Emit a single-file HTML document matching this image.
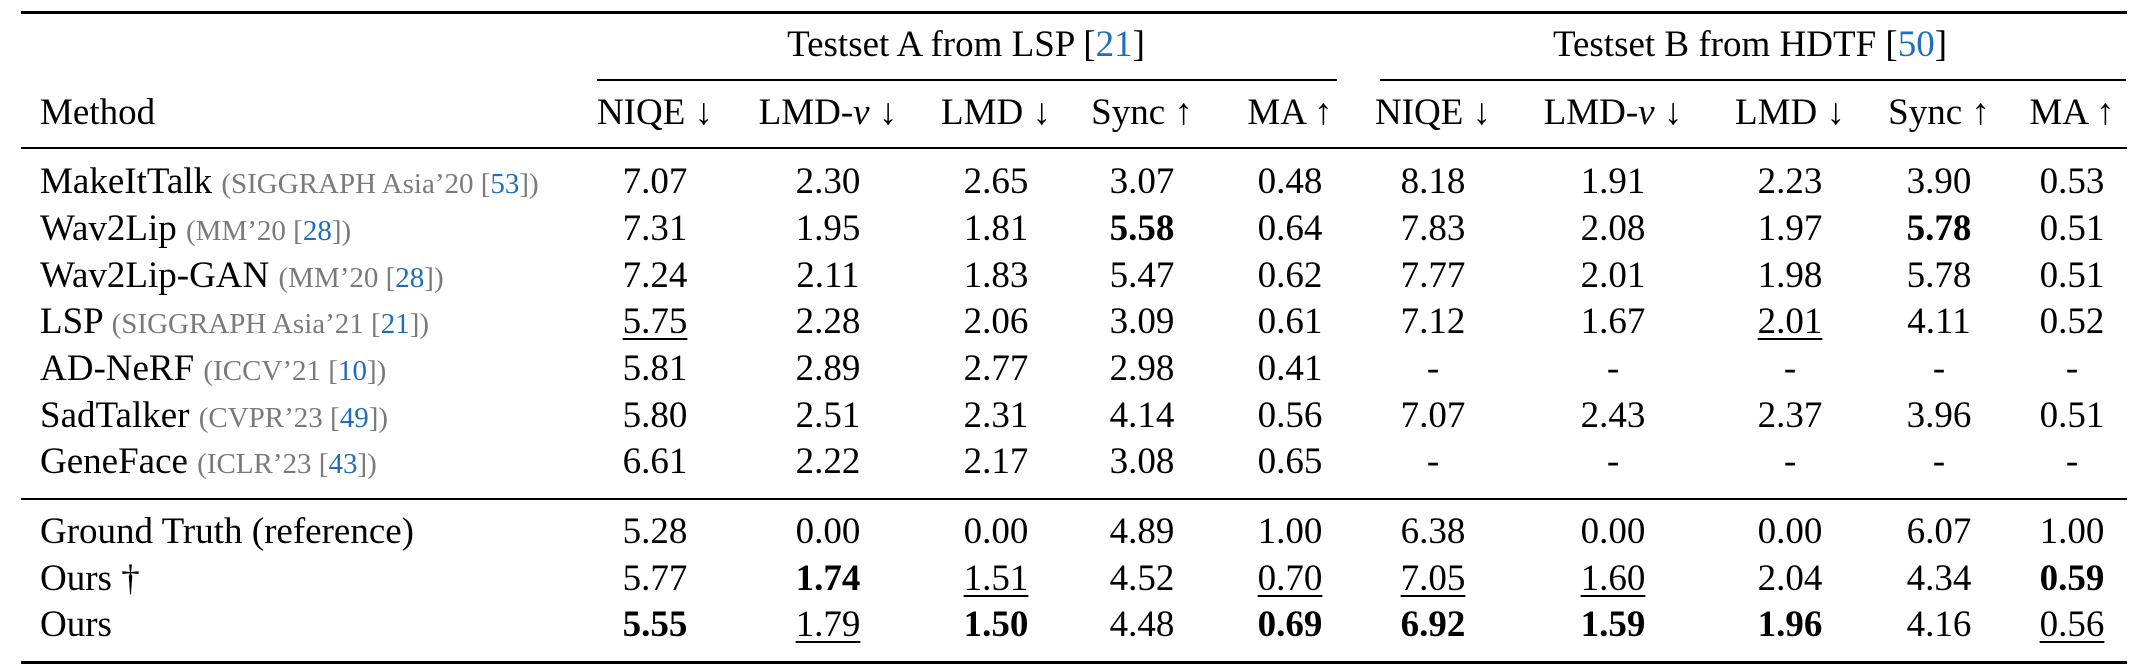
<!DOCTYPE html>
<html><head><meta charset="utf-8">
<style>
body{margin:0;background:#fff;}
#t{position:relative;width:2148px;height:672px;overflow:hidden;background:#fff;font-family:"Liberation Serif","DejaVu Serif",serif;color:#000;}
.rule{position:absolute;background:#000;}
.c{position:absolute;font-size:37px;line-height:40px;height:40px;white-space:nowrap;transform:translateX(-50%);}
.l{position:absolute;font-size:37px;line-height:40px;height:40px;white-space:nowrap;left:40px;}
.g{color:#7a7a7a;font-size:29px;}
.ref{color:#1f6fb8;}
.b{font-weight:bold;}
.u{text-decoration:underline;text-decoration-thickness:2px;text-underline-offset:5px;}
</style></head><body>
<div id="t">
<div class="rule" style="left:21px;top:11px;width:2106px;height:3px"></div>
<div class="rule" style="left:597px;top:79px;width:740px;height:2px"></div>
<div class="rule" style="left:1380px;top:79px;width:746px;height:2px"></div>
<div class="rule" style="left:21px;top:147px;width:2106px;height:2px"></div>
<div class="rule" style="left:21px;top:498px;width:2106px;height:2px"></div>
<div class="rule" style="left:21px;top:661px;width:2106px;height:3px"></div>
<div class="c" style="left:966px;top:25px">Testset A from LSP [<span class="ref">21</span>]</div>
<div class="c" style="left:1750px;top:25px">Testset B from HDTF [<span class="ref">50</span>]</div>
<div class="l" style="top:93px">Method</div>
</div>
<script>
const colX=[655,828,996,1142,1290,1433,1613,1790,1939,2072];
const headers=["NIQE ↓","LMD-<i>v</i> ↓","LMD ↓","Sync ↑","MA ↑","NIQE ↓","LMD-<i>v</i> ↓","LMD ↓","Sync ↑","MA ↑"];
const rowY=[182,229,276,322,369,416,462,532,579,625];
const methods=["MakeItTalk","Wav2Lip","Wav2Lip-GAN","LSP","AD-NeRF","SadTalker","GeneFace","Ground Truth (reference)","Ours †","Ours"];
const venues=["SIGGRAPH Asia’20 ","MM’20 ","MM’20 ","SIGGRAPH Asia’21 ","ICCV’21 ","CVPR’23 ","ICLR’23 ","","",""];
const refs=["53","28","28","21","10","49","43","","",""];
const values=[
["7.07","2.30","2.65","3.07","0.48","8.18","1.91","2.23","3.90","0.53"],
["7.31","1.95","1.81","b5.58","0.64","7.83","2.08","1.97","b5.78","0.51"],
["7.24","2.11","1.83","5.47","0.62","7.77","2.01","1.98","5.78","0.51"],
["u5.75","2.28","2.06","3.09","0.61","7.12","1.67","u2.01","4.11","0.52"],
["5.81","2.89","2.77","2.98","0.41","-","-","-","-","-"],
["5.80","2.51","2.31","4.14","0.56","7.07","2.43","2.37","3.96","0.51"],
["6.61","2.22","2.17","3.08","0.65","-","-","-","-","-"],
["5.28","0.00","0.00","4.89","1.00","6.38","0.00","0.00","6.07","1.00"],
["5.77","b1.74","u1.51","4.52","u0.70","u7.05","u1.60","2.04","4.34","b0.59"],
["b5.55","u1.79","b1.50","4.48","b0.69","b6.92","b1.59","b1.96","4.16","u0.56"]
];
const t=document.getElementById('t');
headers.forEach((h,i)=>{
  const d=document.createElement('div');
  d.className='c';
  
  
  d.style.left=colX[i]+'px';d.style.top='93px';d.innerHTML=h;t.appendChild(d);
});
methods.forEach((m,r)=>{
  const d=document.createElement('div');
  d.className='l';
  
  
  d.style.top=(rowY[r]-20)+'px';
  let html=m;
  if(venues[r]) html+=' <span class="g">('+venues[r]+'[<span class="ref">'+refs[r]+'</span>])</span>';
  d.innerHTML=html;t.appendChild(d);
  values[r].forEach((v,c)=>{
    const e=document.createElement('div');
    
    
    let cls='c',txt=v;
    if(v[0]==='b'){cls+=' b';txt=v.slice(1);}
    else if(v[0]==='u'){txt=v.slice(1);e.innerHTML='<span class="u">'+txt+'</span>';}
    e.className=cls;
    if(!e.innerHTML) e.textContent=txt;
    e.style.left=colX[c]+'px';e.style.top=(rowY[r]-20)+'px';
    t.appendChild(e);
  });
});
</script>
</body></html>
